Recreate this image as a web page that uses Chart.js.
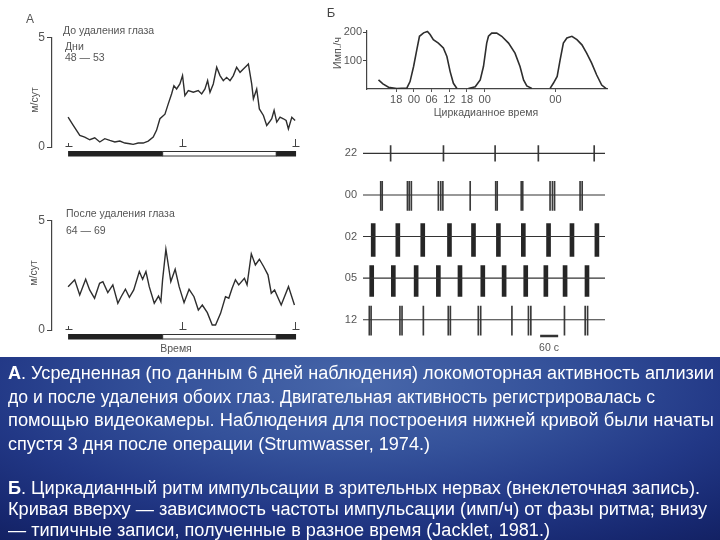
<!DOCTYPE html>
<html>
<head>
<meta charset="utf-8">
<script src="https://cdn.jsdelivr.net/npm/chart.js@4.4.1/dist/chart.umd.min.js"></script>
<style>
body{margin:0;width:720px;height:540px;background:#fff;position:relative;overflow:hidden;font-family:"Liberation Sans",Arial,sans-serif;}
canvas{position:absolute;}
.lbl{position:absolute;color:#555;font-size:10.5px;white-space:nowrap;line-height:1;}
.c{transform:translate(-50%,-50%);}
.l{transform:translateY(-50%);}
.rot{transform:translate(-50%,-50%) rotate(-90deg);}
#box{position:absolute;left:0;top:357px;width:720px;height:183px;
 background:radial-gradient(ellipse 80% 110% at 50% 15%,#4867aa 0%,#34519a 35%,#223886 65%,#172870 88%,#132163 100%);}
.ln{position:absolute;left:8px;color:#fff;font-family:"Liberation Sans Narrow","Liberation Sans",Arial,sans-serif;font-size:18px;line-height:1;white-space:nowrap;transform-origin:0 0;}
</style>
</head>
<body>
<canvas id="aTop" width="310" height="165" style="left:0;top:0"></canvas>
<canvas id="aBot" width="310" height="165" style="left:0;top:190px"></canvas>
<canvas id="bTop" width="300" height="125" style="left:320px;top:0"></canvas>
<canvas id="bRec" width="300" height="240" style="left:320px;top:120px"></canvas>

<div class="lbl c" style="left:30px;top:19px;font-size:12px">А</div>
<div class="lbl l" style="left:63px;top:30px">До удаления глаза</div>
<div class="lbl l" style="left:65px;top:46px">Дни</div>
<div class="lbl l" style="left:65px;top:57px">48 — 53</div>
<div class="lbl rot" style="left:34px;top:100px">м/сут</div>
<div class="lbl l" style="left:66px;top:213px">После удаления глаза</div>
<div class="lbl l" style="left:66px;top:230px">64 — 69</div>
<div class="lbl rot" style="left:33px;top:273px">м/сут</div>
<div class="lbl c" style="left:176px;top:348px">Время</div>
<div class="lbl c" style="left:331px;top:12px;font-size:13px;color:#444">Б</div>
<div class="lbl rot" style="left:337px;top:53px">Имп./ч</div>
<div class="lbl c" style="left:486px;top:112px">Циркадианное время</div>
<div class="lbl c" style="left:549px;top:347px">60 с</div>

<div id="box"></div>
<div class="ln" data-w="706" style="top:364px"><b>А</b>. Усредненная (по данным 6 дней наблюдения) локомоторная активность аплизии</div>
<div class="ln" data-w="647" style="top:387.5px">до и после удаления обоих глаз. Двигательная активность регистрировалась с</div>
<div class="ln" data-w="706" style="top:411px">помощью видеокамеры. Наблюдения для построения нижней кривой были начаты</div>
<div class="ln" data-w="422" style="top:434.5px">спустя 3 дня после операции (Strumwasser, 1974.)</div>
<div class="ln" data-w="692" style="top:479px"><b>Б</b>. Циркадианный ритм импульсации в зрительных нервах (внеклеточная запись).</div>
<div class="ln" data-w="699" style="top:500px">Кривая вверху — зависимость частоты импульсации (имп/ч) от фазы ритма; внизу</div>
<div class="ln" data-w="542" style="top:521px">— типичные записи, полученные в разное время (Jacklet, 1981.)</div>

<script>
// A: locomotor activity, m/day, over 24 h
var aTopHours = [0,0.53,1.24,1.76,2.29,2.82,3.35,3.88,4.41,4.94,5.47,6.0,6.53,6.88,7.41,7.94,8.47,9.0,9.35,9.71,10.24,10.59,10.94,11.19,11.47,11.82,12.1,12.35,12.71,13.24,13.76,14.12,14.47,14.75,15.0,15.35,15.71,16.06,16.41,16.76,17.12,17.47,17.82,18.18,18.53,18.88,19.06,19.41,19.59,19.94,20.22,20.65,21.0,21.28,21.53,21.78,22.06,22.41,22.76,23.05,23.29,23.65,24.0];
var aTopValues = [1.36,1.0,0.53,0.45,0.33,0.42,0.23,0.38,0.3,0.23,0.27,0.18,0.15,0.12,0.18,0.18,0.27,0.45,0.76,1.29,1.5,1.97,2.42,2.8,2.65,2.88,3.26,2.35,2.58,2.5,2.58,2.42,2.65,3.03,2.5,2.88,3.64,3.26,3.03,3.18,3.03,3.26,3.64,3.41,3.56,3.71,3.79,2.88,2.2,2.65,1.74,1.44,0.98,1.14,1.29,1.67,1.14,1.36,1.29,1.21,0.83,1.36,1.21];
var aBotHours = [0,0.70,1.23,1.86,2.28,2.80,3.33,3.68,4.20,4.73,5.26,5.61,6.06,6.48,6.94,7.53,7.88,8.23,8.58,9.11,9.56,9.81,9.99,10.34,10.62,10.86,11.32,11.74,12.26,12.79,13.31,13.77,14.19,14.72,15.24,15.59,16.12,16.64,16.99,17.34,17.69,18.04,18.64,18.92,19.37,19.80,20.22,20.67,21.13,21.48,21.83,22.53,23.30,23.93];
var aBotValues = [1.98,2.29,1.6,2.32,1.83,1.45,2.13,2.21,1.71,2.06,1.22,1.52,1.86,1.49,1.83,2.67,2.32,2.67,1.98,1.22,1.55,1.3,2.29,3.69,2.9,2.21,2.77,1.98,1.25,1.86,1.52,0.91,1.14,0.79,0.23,0.23,0.76,1.52,1.45,1.91,2.29,2.06,2.36,2.06,3.48,2.97,3.23,2.9,2.52,1.68,1.83,1.14,1.98,1.14];
var aTicks = [0, 5];
var markHours = [0, 12, 24];
// light / dark phases under the A plots
var phaseStart = [0, 10, 22];
var phaseEnd = [10, 22, 24.1];
var phaseDark = [true, false, true];

// B: impulse rate (imp/h) vs circadian time (h)
var bHours1 = [12.0,13.5,15.4,18.2,21.6,22.7,23.9,25.0,25.9,27.3,28.6,29.5,30.6,32.3,34.0,35.2,36.3,37.4,38.6];
var bRate1 = [32,18,6,2,3,26,79,138,185,197,202,191,173,161,144,114,61,20,2];
var bHours2 = [42.5,44.8,46.5,47.6,48.7,49.3,50.4,52.1,53.8,56.1,58.3,60.0,61.2,62.3,64.0];
var bRate2 = [2,8,32,79,161,185,196,196,185,161,126,79,32,11,2];
var bHours3 = [70.2,71.3,72.6,73.6,74.7,75.9,77.6,79.3,81.0,82.6,84.3,86.0,87.7,89.4];
var bRate3 = [2,20,44,102,161,179,185,173,155,126,91,49,14,0];
var bTickHours = [18, 24, 30, 36, 42, 48, 72];
var bTickLabels = ["18", "00", "06", "12", "18", "00", "00"];
var bRateTicks = [100, 200];

// B: records at different times, spike times in seconds
var rowLabels = ["22", "00", "02", "05", "12"];
var spikes22 = [92,268,440,584,770];
var spikes00 = [59,64,148,154,161,251,259,266,357,442,447,527,532,623,631,638,723,730];
var bursts02 = [34,116,199,288,368,451,534,618,696,779];
var bursts05 = [29,101,177,251,323,399,470,542,609,673,746];
var spikes12 = [21,27,123,130,201,284,291,384,392,496,551,559,671,740,748];
var rowUp = [0.19,0.33,0.31,0.3,0.33];
var rowDown = [0.19,0.37,0.48,0.44,0.37];
var recordSec = 806;
var scaleBarSec = [590, 650];

Chart.defaults.font.family = "'Liberation Sans', Arial, sans-serif";
Chart.defaults.font.size = 11;
Chart.defaults.color = "#555";
Chart.defaults.animation = false;
Chart.defaults.plugins.legend.display = false;
Chart.defaults.plugins.tooltip.enabled = false;

function pts(xs, ys) {
  return xs.map(function(x, i) { return { x: x, y: ys[i] }; });
}

var phasePlugin = {
  id: "phaseBar",
  afterDatasetsDraw: function(chart) {
    var ctx = chart.ctx, area = chart.chartArea, x = chart.scales.x, y = chart.scales.y;
    var top = area.bottom + 4;
    ctx.save();
    for (var i = 0; i < phaseStart.length; i++) {
      var x0 = x.getPixelForValue(phaseStart[i]), x1 = x.getPixelForValue(phaseEnd[i]);
      if (phaseDark[i]) {
        ctx.fillStyle = "#222";
        ctx.fillRect(x0, top, x1 - x0, 5.5);
      } else {
        ctx.strokeStyle = "#333";
        ctx.lineWidth = 1;
        ctx.strokeRect(x0, top + 0.5, x1 - x0, 4.5);
      }
    }
    var y0 = y.getPixelForValue(0);
    ctx.strokeStyle = "#444";
    ctx.lineWidth = 1;
    markHours.forEach(function(h, i) {
      var px = Math.round(x.getPixelForValue(h)) + 0.5;
      var len = i == 0 ? 4 : 8;
      ctx.beginPath();
      ctx.moveTo(px, y0 - len);
      ctx.lineTo(px, y0);
      ctx.moveTo(px - 3, y0 - 0.5);
      ctx.lineTo(px + 4, y0 - 0.5);
      ctx.stroke();
    });
    ctx.restore();
  }
};

function activityChart(id, hours, values, padTop, padBottom) {
  return new Chart(document.getElementById(id), {
    type: "line",
    data: {
      datasets: [{
        data: pts(hours, values),
        borderColor: "#2e2e2e",
        borderWidth: 1.4,
        pointRadius: 0,
        tension: 0
      }]
    },
    options: {
      responsive: false,
      layout: { padding: { top: padTop, bottom: padBottom, left: 0, right: 13 } },
      scales: {
        x: { type: "linear", min: -1.7, max: 24.2, display: false },
        y: {
          min: 0, max: 5,
          afterBuildTicks: function(s) { s.ticks = aTicks.map(function(v) { return { value: v }; }); },
          afterFit: function(s) { s.width = 52; },
          border: { color: "#444", width: 1.2 },
          grid: { drawOnChartArea: false, tickLength: 5, color: "#444" },
          ticks: { padding: 2, font: { size: 12 } }
        }
      }
    },
    plugins: [phasePlugin]
  });
}

activityChart("aTop", aTopHours, aTopValues, 37.5, 18);
activityChart("aBot", aBotHours, aBotValues, 30.5, 25);

function humpSet(xs, ys) {
  return { data: pts(xs, ys), borderColor: "#2e2e2e", borderWidth: 1.6, pointRadius: 0, tension: 0 };
}

new Chart(document.getElementById("bTop"), {
  type: "line",
  data: { datasets: [humpSet(bHours1, bRate1), humpSet(bHours2, bRate2), humpSet(bHours3, bRate3)] },
  options: {
    responsive: false,
    layout: { padding: { top: 30.3, bottom: 0, left: 0, right: 13 } },
    scales: {
      x: {
        type: "linear", min: 8.1, max: 89.5,
        afterBuildTicks: function(s) { s.ticks = bTickHours.map(function(v) { return { value: v }; }); },
        afterFit: function(s) { s.height = 36; },
        border: { color: "#444", width: 1.2 },
        grid: { drawOnChartArea: false, tickLength: 3, color: "#555" },
        ticks: {
          padding: 1, maxRotation: 0, autoSkip: false,
          callback: function(v, i) { return bTickLabels[i]; }
        }
      },
      y: {
        min: 0, max: 206,
        afterBuildTicks: function(s) { s.ticks = bRateTicks.map(function(v) { return { value: v }; }); },
        afterFit: function(s) { s.width = 47; },
        border: { color: "#444", width: 1.2 },
        grid: { drawOnChartArea: false, tickLength: 4, color: "#444" },
        ticks: { padding: 1 }
      }
    }
  }
});

// record rows: row i sits at y = 4 - i
function spikeBars(times, row) {
  var yv = 4 - row;
  return times.map(function(t) { return { x: t, y: [yv - rowDown[row], yv + rowUp[row]] }; });
}
var recDatasets = rowLabels.map(function(lab, i) {
  return {
    type: "line",
    data: [{ x: 0, y: 4 - i }, { x: recordSec, y: 4 - i }],
    borderColor: "#333", borderWidth: 1.1, pointRadius: 0
  };
});
recDatasets.push({
  type: "bar", grouped: false, barThickness: 1, backgroundColor: "#3a3a3a",
  data: spikeBars(spikes22, 0).concat(spikeBars(spikes00, 1), spikeBars(spikes12, 4))
});
recDatasets.push({
  type: "bar", grouped: false, barThickness: 4, backgroundColor: "#262626",
  data: spikeBars(bursts02, 2).concat(spikeBars(bursts05, 3))
});
recDatasets.push({
  type: "line",
  data: [{ x: scaleBarSec[0], y: -0.39 }, { x: scaleBarSec[1], y: -0.39 }],
  borderColor: "#333", borderWidth: 2.5, pointRadius: 0
});

new Chart(document.getElementById("bRec"), {
  type: "bar",
  data: { datasets: recDatasets },
  options: {
    responsive: false,
    layout: { padding: { top: 6.625, bottom: 15.35, left: 0, right: 15 } },
    scales: {
      x: { type: "linear", min: 0, max: recordSec, offset: false, display: false, grid: { offset: false } },
      y: {
        min: -0.6, max: 4.5,
        afterBuildTicks: function(s) { s.ticks = [0, 1, 2, 3, 4].map(function(v) { return { value: v }; }); },
        afterFit: function(s) { s.width = 43; },
        border: { display: false },
        grid: { display: false, drawTicks: false },
        ticks: { padding: 6, callback: function(v) { return rowLabels[4 - v]; } }
      }
    }
  }
});

// fit caption lines to the widths in the picture
document.querySelectorAll(".ln").forEach(function(el) {
  var w = el.getBoundingClientRect().width;
  el.style.transform = "scaleX(" + (parseFloat(el.dataset.w) / w) + ")";
});
</script>
</body>
</html>
